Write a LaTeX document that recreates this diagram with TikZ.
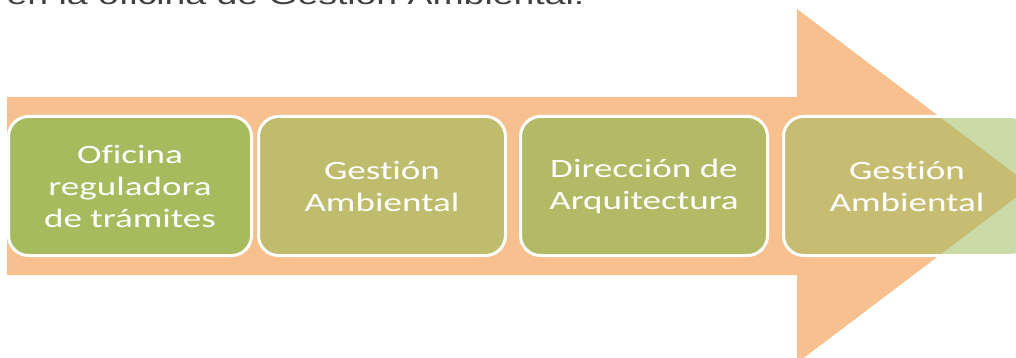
\documentclass[tikz,border=0pt]{standalone}
\usepackage{fontspec}
\newfontfamily\boxfont[FakeStretch=1.4,Ligatures={NoCommon}]{Carlito}
\newfontfamily\headfont[FakeStretch=1.4]{Liberation Sans}
\definecolor{arroworange}{HTML}{F9C08F}
\definecolor{boxA}{HTML}{A6BB5E}
\definecolor{boxB}{HTML}{BFBC6D}
\definecolor{boxC}{HTML}{B3BA65}
\definecolor{boxD}{HTML}{9BBB59}
\definecolor{headgray}{HTML}{404040}
\tikzset{
  stagebox/.style={draw=white, line width=3pt, rounded corners=20pt,
    minimum width=247pt, minimum height=139pt, inner sep=0pt,
    text=white, align=center,
    font=\boxfont\fontsize{26.5pt}{32pt}\selectfont},
  headtext/.style={anchor=base west, inner sep=0pt, text=headgray,
    font=\headfont\fontsize{26.7pt}{32pt}\selectfont}
}
\begin{document}
\begin{tikzpicture}[x=1pt,y=-1pt]
\useasboundingbox (0,0) rectangle (1016,358);
\clip (0,0) rectangle (1016,358);
\fill[white] (0,0) rectangle (1016,358);
% heading (cut off at top)
\node[headtext] (head) at (6.5,4.5) {en la oficina de Gestión Ambiental.};
% big arrow
\fill[arroworange] (7,97) -- (797,97) -- (797,9) -- (1031,186)
  -- (797,363) -- (797,275) -- (7,275) -- cycle;
% stages
\node[stagebox, fill=boxA, minimum width=243pt] (s1) at (130,186)
  {Oficina\\reguladora\\de trámites};
\node[stagebox, fill=boxB] (s2) at (382,186) {Gestión\\Ambiental};
\node[stagebox, fill=boxC] (s3) at (644,186) {Dirección de\\Arquitectura};
\node[stagebox, fill=boxD, fill opacity=0.52, text opacity=1] (s4) at (907,186)
  {Gestión\\Ambiental};
\end{tikzpicture}
\end{document}
